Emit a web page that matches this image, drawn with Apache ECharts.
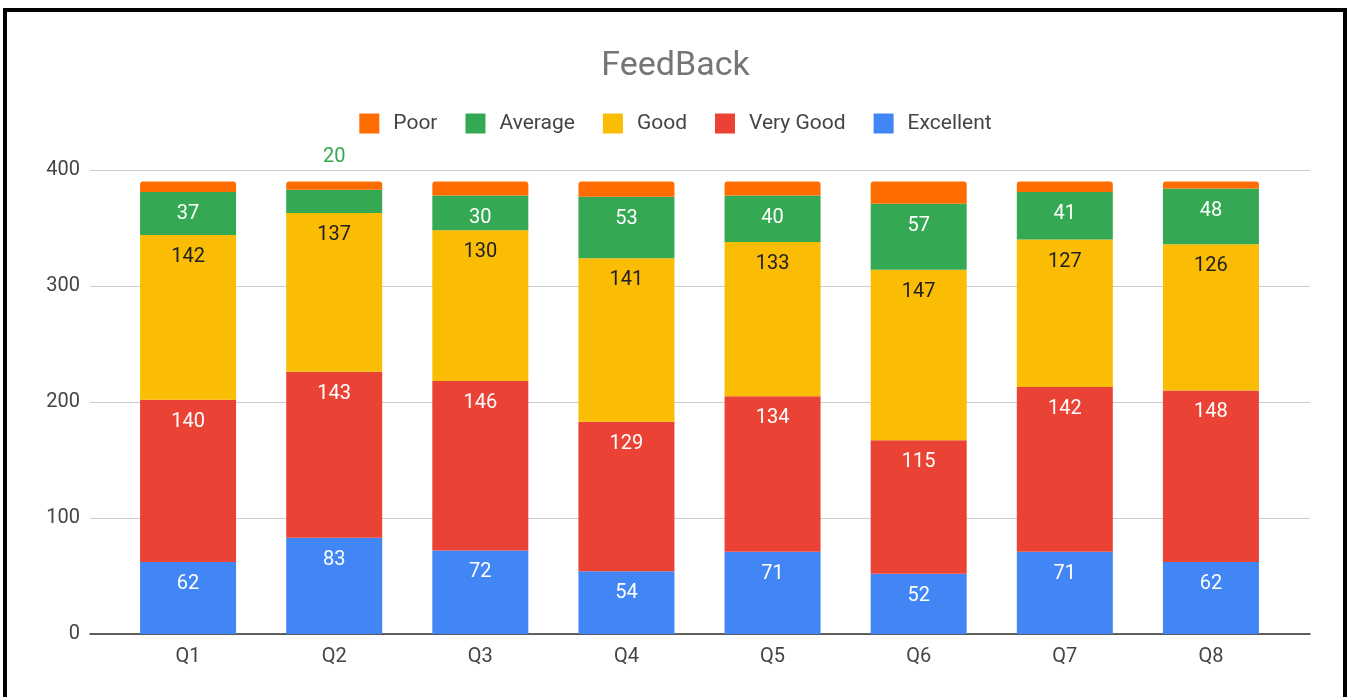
<!DOCTYPE html>
<html>
<head>
<meta charset="utf-8">
<script src="https://cdn.jsdelivr.net/npm/echarts@6/dist/echarts.min.js"></script>
<style>
  html, body { margin: 0; padding: 0; background: #fff; }
  #feedback { width: 1351px; height: 697px; }
</style>
</head>
<body>
<div id="feedback"></div>
<script>
// categories and values
var quarters = ['Q1', 'Q2', 'Q3', 'Q4', 'Q5', 'Q6', 'Q7', 'Q8'];
var poor = [9, 7, 12, 13, 12, 19, 9, 6];
var average = [37, 20, 30, 53, 40, 57, 41, 48];
var good = [142, 137, 130, 141, 133, 147, 127, 126];
var veryGood = [140, 143, 146, 129, 134, 115, 142, 148];
var excellent = [62, 83, 72, 54, 71, 52, 71, 62];
var yTicks = [0, 100, 200, 300, 400];

var chart = echarts.init(document.getElementById('feedback'));

function inLabel(color) {
  return {
    show: true,
    position: 'insideTop',
    distance: 12,
    color: color,
    fontSize: 20,
    fontFamily: 'Roboto'
  };
}

// Q2 average doesn't fit in its segment, so it goes above the bar
var averageData = average.map(function (v, i) {
  if (i === 1) {
    return { value: v, label: { position: 'top', distance: 23, color: '#34a853' } };
  }
  return v;
});

function bar(name, data, color, label, radius) {
  return {
    name: name,
    type: 'bar',
    stack: 'total',
    xAxisIndex: 1,
    yAxisIndex: 1,
    barWidth: 96,
    data: data,
    itemStyle: { color: color, borderRadius: radius || 0 },
    label: label,
    emphasis: { disabled: true }
  };
}

var option = {
  animation: false,
  textStyle: { fontFamily: 'Roboto' },
  title: {
    text: 'FeedBack',
    left: 'center',
    top: 49,
    padding: 0,
    textStyle: { fontSize: 34, fontWeight: 'normal', color: '#757575', fontFamily: 'Roboto' }
  },
  legend: {
    data: ['Poor', 'Average', 'Good', 'Very Good', 'Excellent'],
    left: 'center',
    top: 108,
    itemWidth: 20,
    itemHeight: 20,
    itemGap: 28,
    icon: 'rect',
    itemStyle: { borderRadius: 3 },
    textStyle: { fontSize: 21, color: '#444', padding: [0, 0, 0, 9] }
  },
  graphic: [{
    type: 'rect',
    shape: { x: 5, y: 10, width: 1340, height: 700 },
    style: { fill: 'none', stroke: '#000', lineWidth: 4 },
    silent: true
  }],
  grid: [
    { left: 90, right: 41, top: 170, bottom: 63 },
    { left: 115, right: 67, top: 170, bottom: 63 }
  ],
  xAxis: [
    {
      type: 'category', gridIndex: 0, data: quarters,
      axisLine: { show: true, lineStyle: { color: '#333', width: 1.5 } },
      axisTick: { show: false }, axisLabel: { show: false }
    },
    {
      type: 'category', gridIndex: 1, data: quarters,
      axisLine: { show: false }, axisTick: { show: false },
      axisLabel: { fontSize: 20, color: '#444', margin: 13 }
    }
  ],
  yAxis: [
    {
      type: 'value', gridIndex: 0,
      min: yTicks[0], max: yTicks[yTicks.length - 1], interval: 100,
      axisLine: { show: false }, axisTick: { show: false },
      axisLabel: { fontSize: 20, color: '#444', margin: 10 },
      splitLine: { lineStyle: { color: '#cccccc', width: 1 } }
    },
    {
      type: 'value', gridIndex: 1,
      min: yTicks[0], max: yTicks[yTicks.length - 1], interval: 100,
      show: false, splitLine: { show: false }
    }
  ],
  series: [
    bar('Excellent', excellent, '#4285f4', inLabel('#ffffff')),
    bar('Very Good', veryGood, '#ea4335', inLabel('#ffffff')),
    bar('Good', good, '#fbbc04', inLabel('#202124')),
    bar('Average', averageData, '#34a853', inLabel('#ffffff')),
    bar('Poor', poor, '#ff6d01', { show: false }, [3, 3, 0, 0])
  ]
};

chart.setOption(option);
</script>
</body>
</html>
